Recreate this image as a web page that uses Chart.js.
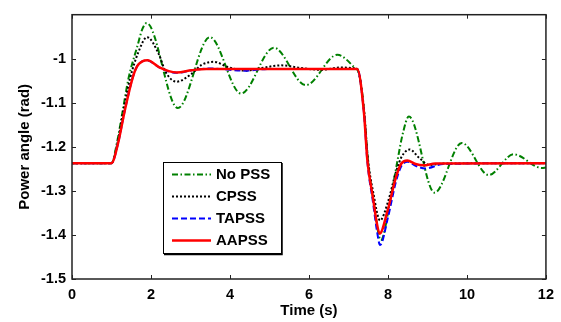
<!DOCTYPE html>
<html><head><meta charset="utf-8">
<script src="https://cdn.jsdelivr.net/npm/chart.js@4/dist/chart.umd.min.js"></script>
<style>html,body{margin:0;padding:0;background:#fff;}canvas{display:block;}</style>
</head><body>
<canvas id="c" width="561" height="322"></canvas>
<script>
// ---- data ----
const seriesNames = ['No PSS', 'CPSS', 'TAPSS', 'AAPSS'];
const xTicks = [0, 2, 4, 6, 8, 10, 12];
const yTicks = [-1.5, -1.4, -1.3, -1.2, -1.1, -1];

const noPssT = [0, 1.0, 1.14, 1.28, 1.43, 1.66, 1.78, 1.89, 2.68, 3.49, 4.28, 5.11, 5.92, 6.72, 7.15, 7.27, 7.4, 7.5, 7.63, 7.82, 8.07, 8.24, 8.37, 8.53, 9.18, 9.87, 10.55, 11.18, 11.9, 12];
const noPssV = [-1.237, -1.237, -1.19, -1.12, -1.045, -0.97, -0.933, -0.919, -1.112, -0.951, -1.079, -0.975, -1.06, -0.991, -1.02, -1.035, -1.12, -1.235, -1.32, -1.412, -1.315, -1.232, -1.172, -1.131, -1.304, -1.191, -1.264, -1.217, -1.248, -1.247];

const cpssT = [0, 1.0, 1.15, 1.3, 1.47, 1.68, 1.9, 2.2, 2.37, 2.65, 3.03, 3.28, 3.6, 3.95, 4.4, 4.8, 5.3, 5.8, 6.3, 6.8, 7.22, 7.39, 7.49, 7.63, 7.8, 8.0, 8.2, 8.35, 8.55, 8.8, 9.05, 9.4, 12];
const cpssV = [-1.237, -1.237, -1.192, -1.118, -1.045, -0.985, -0.951, -0.99, -1.03, -1.052, -1.034, -1.014, -1.007, -1.019, -1.027, -1.021, -1.015, -1.021, -1.025, -1.02, -1.023, -1.115, -1.225, -1.305, -1.367, -1.325, -1.258, -1.222, -1.206, -1.226, -1.241, -1.238, -1.237];

const tapssT = [0, 1.0, 1.16, 1.33, 1.53, 1.65, 1.78, 1.91, 2.2, 2.45, 2.65, 3.03, 3.5, 4.35, 5.0, 7.22, 7.39, 7.48, 7.62, 7.72, 7.8, 8.0, 8.2, 8.33, 8.5, 8.7, 8.95, 9.4, 12];
const tapssV = [-1.237, -1.237, -1.194, -1.12, -1.045, -1.017, -1.006, -1.004, -1.019, -1.029, -1.032, -1.026, -1.022, -1.027, -1.023, -1.023, -1.12, -1.235, -1.325, -1.39, -1.423, -1.36, -1.28, -1.245, -1.234, -1.243, -1.249, -1.239, -1.237];

const aapssT = [0, 1.0, 1.16, 1.33, 1.53, 1.65, 1.78, 1.91, 2.2, 2.45, 2.65, 3.03, 3.4, 7.22, 7.39, 7.48, 7.62, 7.72, 7.79, 7.99, 8.2, 8.33, 8.49, 8.7, 8.9, 9.2, 12];
const aapssV = [-1.237, -1.237, -1.194, -1.12, -1.045, -1.017, -1.006, -1.0036, -1.019, -1.028, -1.031, -1.026, -1.023, -1.023, -1.12, -1.232, -1.315, -1.374, -1.397, -1.345, -1.27, -1.239, -1.231, -1.239, -1.242, -1.238, -1.237];

const pts = (t, v) => t.map((x, i) => ({x: x, y: v[i]}));

Chart.defaults.font.family = 'Arial, "Liberation Sans", Helvetica, sans-serif';
Chart.defaults.color = '#000';

const frameAndTicks = {
  id: 'frameAndTicks',
  afterDatasetsDraw(chart) {
    const {ctx, chartArea: a, scales: {x, y}} = chart;
    ctx.save();
    ctx.strokeStyle = '#222';
    ctx.lineWidth = 1.5;
    ctx.strokeRect(a.left, a.top, a.right - a.left, a.bottom - a.top);
    ctx.lineWidth = 1;
    ctx.beginPath();
    const L = 4;
    xTicks.forEach(v => {
      const px = Math.round(x.getPixelForValue(v)) + 0.5;
      ctx.moveTo(px, a.bottom); ctx.lineTo(px, a.bottom - L);
      ctx.moveTo(px, a.top); ctx.lineTo(px, a.top + L);
    });
    yTicks.forEach(v => {
      const py = Math.round(y.getPixelForValue(v)) + 0.5;
      ctx.moveTo(a.left, py); ctx.lineTo(a.left + L, py);
      ctx.moveTo(a.right, py); ctx.lineTo(a.right - L, py);
    });
    ctx.stroke();
    ctx.restore();
  }
};

const boxLegend = {
  id: 'boxLegend',
  afterDraw(chart) {
    const {ctx} = chart;
    const bx = 163, by = 162, bw = 118, bh = 91;
    ctx.save();
    ctx.fillStyle = '#fff';
    ctx.fillRect(bx, by, bw, bh);
    ctx.strokeStyle = '#000';
    ctx.lineWidth = 1;
    ctx.strokeRect(bx + 0.5, by + 0.5, bw, bh);
    ctx.lineWidth = 1.5;
    ctx.beginPath();
    ctx.moveTo(bx + bw + 1, by + 1); ctx.lineTo(bx + bw + 1, by + bh + 1.5); ctx.lineTo(bx + 1, by + bh + 1.5);
    ctx.stroke();
    chart.data.datasets.forEach((ds, i) => {
      const yy = by + 12.5 + i * 22;
      ctx.strokeStyle = ds.borderColor;
      ctx.lineWidth = ds.borderWidth;
      ctx.setLineDash(ds.borderDash || []);
      ctx.beginPath();
      ctx.moveTo(172, yy); ctx.lineTo(211, yy);
      ctx.stroke();
      ctx.setLineDash([]);
      ctx.fillStyle = '#000';
      ctx.font = 'bold 15px Arial, "Liberation Sans", sans-serif';
      ctx.textBaseline = 'middle';
      ctx.textAlign = 'left';
      ctx.fillText(ds.label, 216, yy + 0.5);
    });
    ctx.restore();
  }
};

new Chart(document.getElementById('c'), {
  type: 'line',
  data: {
    datasets: [
      {label: seriesNames[0], data: pts(noPssT, noPssV), borderColor: '#008000', borderWidth: 2, borderDash: [6, 2.5, 1.5, 2.5], order: 3},
      {label: seriesNames[1], data: pts(cpssT, cpssV), borderColor: '#000000', borderWidth: 2, borderDash: [2, 2], order: 2},
      {label: seriesNames[2], data: pts(tapssT, tapssV), borderColor: '#0000ff', borderWidth: 2, borderDash: [6, 3], order: 1},
      {label: seriesNames[3], data: pts(aapssT, aapssV), borderColor: '#ff0000', borderWidth: 2.5, order: 0}
    ]
  },
  options: {
    responsive: false,
    animation: false,
    events: [],
    cubicInterpolationMode: 'monotone',
    elements: {point: {radius: 0}, line: {cubicInterpolationMode: 'monotone', fill: false}},
    layout: {padding: {top: 12, right: 9, left: 0, bottom: 0}},
    plugins: {legend: {display: false}, tooltip: {enabled: false}},
    scales: {
      x: {
        type: 'linear', min: 0, max: 12,
        afterBuildTicks: s => { s.ticks = xTicks.map(v => ({value: v})); },
        afterFit: s => { s.height = 43; },
        grid: {display: false, drawTicks: false},
        border: {display: false},
        ticks: {padding: 7, maxRotation: 0, font: {size: 14.5, weight: 'bold'}, color: '#000', callback: v => String(v)},
        title: {display: true, text: 'Time (s)', font: {size: 15, weight: 'bold'}, color: '#000', padding: {top: 0, bottom: 2}}
      },
      y: {
        type: 'linear', min: -1.5, max: -0.9,
        afterBuildTicks: s => { s.ticks = yTicks.map(v => ({value: v})); },
        afterFit: s => { s.width = 72; },
        grid: {display: false, drawTicks: false},
        border: {display: false},
        ticks: {padding: 6, font: {size: 14.5, weight: 'bold'}, color: '#000', callback: v => String(Math.round(v * 10) / 10)},
        title: {display: true, text: 'Power angle (rad)', font: {size: 15, weight: 'bold'}, color: '#000', padding: {top: 16, bottom: 0}}
      }
    }
  },
  plugins: [frameAndTicks, boxLegend]
});
</script>
</body></html>
